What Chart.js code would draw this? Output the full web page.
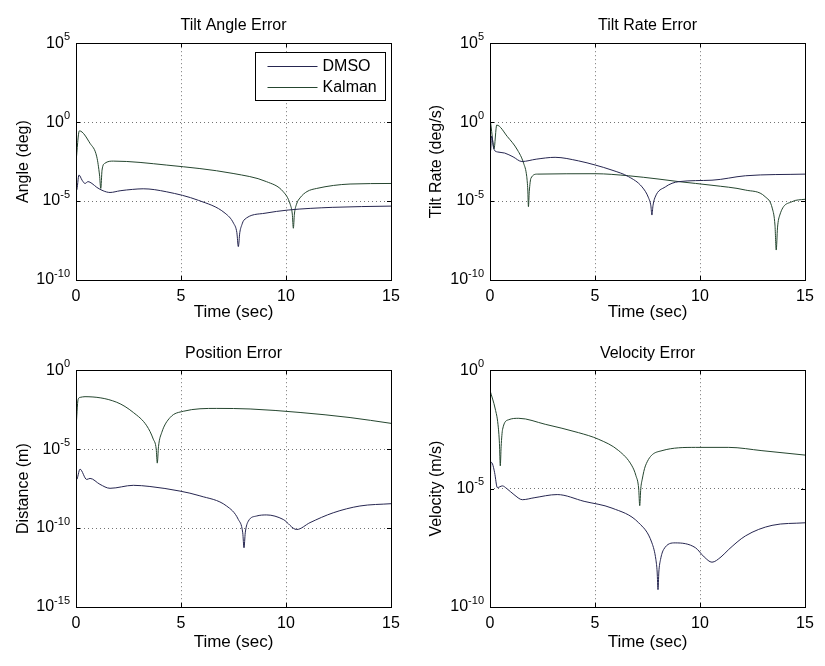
<!DOCTYPE html>
<html>
<head>
<meta charset="utf-8">
<script src="https://cdn.jsdelivr.net/npm/chart.js@4.4.1/dist/chart.umd.min.js"></script>
<style>
  html, body { margin:0; padding:0; background:#fff; }
  #fig { position:relative; width:825px; height:666px; }
  #fig canvas { position:absolute; }
</style>
</head>
<body>
<div id="fig">
  <canvas id="cAngle" width="412" height="333" style="left:0;top:0"></canvas>
  <canvas id="cRate" width="412" height="333" style="left:412px;top:0"></canvas>
  <canvas id="cPos" width="412" height="333" style="left:0;top:333px"></canvas>
  <canvas id="cVel" width="412" height="333" style="left:412px;top:333px"></canvas>
</div>
<script>
// ----- Datos -----
const seriesNames = ['DMSO', 'Kalman'];
const timeTicks = [0, 5, 10, 15];
const angleTicks = [1e-10, 1e-5, 1e0, 1e5];
const rateTicks = [1e-10, 1e-5, 1e0, 1e5];
const posTicks = [1e-15, 1e-10, 1e-5, 1e0];
const velTicks = [1e-10, 1e-5, 1e0];

// Tilt Angle Error
const angleDmsoT = [0, 0.03, 0.14, 0.29, 0.43, 0.57, 0.76, 0.99, 1.29, 1.62, 2.1, 2.7, 3.2, 4.3, 5.84, 7.1, 7.5, 7.66, 7.73, 7.8, 7.9, 8.0, 9.0, 10.1, 12.2, 15];
const angleDmso  = [3.2e-3, 5.0e-5, 4.5e-4, 2.1e-4, 1.3e-4, 1.7e-4, 1.3e-4, 7.4e-5, 4.5e-5, 3.5e-5, 4.5e-5, 5.5e-5, 6.0e-5, 3.9e-5, 1.1e-5, 1.7e-6, 4.0e-7, 1.0e-7, 1.3e-8, 1.0e-7, 3.2e-7, 6.3e-7, 1.7e-6, 2.7e-6, 4.0e-6, 4.8e-6];
const angleKalT  = [0, 0.16, 0.67, 0.99, 1.12, 1.18, 1.24, 1.38, 1.78, 4.32, 7.48, 9.07, 9.87, 10.2, 10.3, 10.35, 10.4, 10.5, 10.67, 11.0, 11.46, 13.05, 15];
const angleKal   = [3.0e-3, 0.28, 0.045, 6.3e-3, 4.5e-4, 6.3e-5, 9.1e-4, 2.5e-3, 3.4e-3, 1.9e-3, 5.6e-4, 1.7e-4, 3.9e-5, 6.3e-6, 1.5e-6, 1.9e-7, 1.5e-6, 6.3e-6, 1.6e-5, 4.0e-5, 6.3e-5, 1.2e-4, 1.3e-4];

// Tilt Rate Error
const rateDmsoT = [0, 0.03, 0.07, 0.2, 0.35, 0.7, 1.1, 1.52, 2.2, 3.1, 4.22, 5.02, 5.81, 6.6, 7.24, 7.55, 7.66, 7.71, 7.76, 7.85, 8.35, 8.99, 10.57, 12.16, 15];
const rateDmso  = [1.3, 0.016, 0.13, 0.018, 0.013, 0.011, 6.3e-3, 3.2e-3, 4.5e-3, 5.9e-3, 3.5e-3, 1.9e-3, 9.1e-4, 3.5e-4, 7.9e-5, 1.6e-5, 5.0e-6, 1.3e-6, 5.0e-6, 1.6e-5, 7.9e-5, 1.7e-4, 2.1e-4, 4.0e-4, 5.1e-4];
const rateKalT  = [0, 0.08, 0.19, 0.32, 0.83, 1.31, 1.6, 1.75, 1.8, 1.83, 1.87, 1.95, 2.25, 5, 6.6, 8, 9, 10.57, 12.16, 13.1, 13.45, 13.57, 13.63, 13.69, 13.8, 14.38, 15];
const rateKal   = [2.0, 0.25, 0.02, 0.65, 0.12, 0.017, 2.5e-3, 3.5e-4, 5.0e-5, 4.4e-6, 4.0e-5, 2.8e-4, 5.1e-4, 5.4e-4, 4.0e-4, 2.5e-4, 1.7e-4, 1.0e-4, 5.0e-5, 1.9e-5, 3.2e-6, 3.0e-7, 7.9e-9, 2.0e-7, 1.3e-6, 9.1e-6, 1.3e-5];

// Position Error
const posDmsoT = [0, 0.03, 0.19, 0.51, 0.67, 1.14, 1.62, 2.73, 3.52, 4.95, 5.9, 7.17, 7.73, 7.94, 8.0, 8.06, 8.21, 8.6, 9.08, 9.87, 10.51, 11.14, 12.25, 13.52, 15];
const posDmso  = [3.8e-6, 1.2e-7, 5.4e-7, 1.2e-7, 1.4e-7, 5.9e-8, 3.3e-8, 5.1e-8, 4.3e-8, 2.2e-8, 1.1e-8, 2.5e-9, 3.5e-10, 5.0e-11, 5.6e-12, 5.0e-11, 2.8e-10, 5.8e-10, 6.8e-10, 3.5e-10, 8.1e-11, 2.2e-10, 9.3e-10, 2.5e-9, 3.5e-9];
const posKalT  = [0, 0.1, 0.2, 0.43, 1.94, 2.73, 3.37, 3.68, 3.82, 3.87, 3.93, 4.08, 4.48, 5.11, 6.7, 8.29, 10.67, 13.05, 15];
const posKal   = [1.9e-4, 0.014, 0.019, 0.021, 9.3e-3, 2.1e-3, 3.0e-4, 4.3e-5, 1.0e-5, 1.3e-6, 1.5e-5, 1.1e-4, 1.0e-3, 2.5e-3, 3.8e-3, 3.5e-3, 2.1e-3, 1.0e-3, 4.3e-4];

// Velocity Error
const velDmsoT = [0, 0.04, 0.12, 0.22, 0.35, 0.59, 0.8, 1.14, 1.54, 2.1, 3.2, 4.48, 5.81, 7.08, 7.71, 7.9, 7.96, 8.0, 8.04, 8.12, 8.27, 8.82, 9.78, 10.2, 10.57, 11.0, 11.37, 12.16, 13.43, 15];
const velDmso  = [6.3e-7, 1.3e-4, 1.1e-4, 4.7e-5, 1.1e-5, 1.3e-5, 1.0e-5, 5.6e-6, 3.4e-6, 4.1e-6, 5.6e-6, 2.9e-6, 1.5e-6, 3.6e-7, 5.1e-8, 1.0e-8, 3.0e-9, 5.4e-10, 3.0e-9, 1.0e-8, 2.7e-8, 5.1e-8, 3.2e-8, 1.3e-8, 7.8e-9, 1.3e-8, 2.7e-8, 1.0e-7, 2.8e-7, 3.6e-7];
const velKalT  = [0, 0.25, 0.38, 0.45, 0.49, 0.53, 0.6, 0.89, 1.37, 2.63, 4.22, 5.18, 6.13, 6.76, 6.95, 7.08, 7.13, 7.18, 7.25, 7.4, 8.19, 9.78, 11.37, 12.95, 15];
const velKal   = [0.14, 0.023, 5.2e-3, 8.0e-4, 9.1e-5, 6.0e-4, 3.2e-3, 8.1e-3, 9.3e-3, 5.2e-3, 2.3e-3, 1.2e-3, 4.0e-4, 9.1e-5, 3.5e-5, 1.0e-5, 1.9e-6, 1.0e-5, 2.5e-5, 9.1e-5, 4.0e-4, 5.5e-4, 5.5e-4, 4.0e-4, 2.6e-4];

// ----- Estilo base -----
const colDmso = '#262650';
const colKal = '#25462f';
const FONT = '"Liberation Sans", Arial, Helvetica, sans-serif';
Chart.defaults.font.family = FONT;
Chart.defaults.font.size = 16;
Chart.defaults.color = '#000';

function pts(ts, vs){ return ts.map((t,i)=>({x:t, y:vs[i]})); }

// caja + marcas de tick hacia dentro (estilo MATLAB) + etiquetas 10^n
const boxPlugin = {
  id:'box',
  afterDatasetsDraw(chart){
    const {ctx, chartArea:a, scales} = chart;
    ctx.save();
    ctx.strokeStyle = '#000'; ctx.lineWidth = 1;
    ctx.beginPath();
    scales.x.ticks.forEach(t=>{
      const px = Math.round(scales.x.getPixelForValue(t.value)) + 0.5;
      ctx.moveTo(px, a.bottom); ctx.lineTo(px, a.bottom-4);
      ctx.moveTo(px, a.top); ctx.lineTo(px, a.top+4);
    });
    scales.y.ticks.forEach(t=>{
      const py = Math.round(scales.y.getPixelForValue(t.value)) + 0.5;
      ctx.moveTo(a.left, py); ctx.lineTo(a.left+4, py);
      ctx.moveTo(a.right, py); ctx.lineTo(a.right-4, py);
    });
    ctx.stroke();
    ctx.strokeRect(Math.round(a.left)+0.5, Math.round(a.top)+0.5, Math.round(a.right-a.left), Math.round(a.bottom-a.top));

    // etiquetas del eje log: "10" + exponente
    ctx.fillStyle = '#000';
    scales.y.ticks.forEach(t=>{
      const py = scales.y.getPixelForValue(t.value);
      const ex = String(Math.round(Math.log10(t.value)));
      ctx.font = '11px ' + FONT;
      const we = ctx.measureText(ex).width;
      ctx.font = '16px ' + FONT;
      const wb = ctx.measureText('10').width;
      const right = a.left - 6;
      ctx.textBaseline = 'middle'; ctx.textAlign = 'left';
      ctx.fillText('10', right - we - wb, py);
      ctx.font = '11px ' + FONT;
      ctx.textBaseline = 'top';
      ctx.fillText(ex, right - we, py - 12);
    });
    ctx.restore();
  }
};

// leyenda dentro del área (esquina superior derecha)
const legendBox = {
  id:'legendBox',
  afterDraw(chart, args, opts){
    if(!opts.show) return;
    const {ctx, chartArea:a} = chart;
    const w = 130, h = 48;
    const x = Math.round(a.right - 6 - w) + 0.5, y = Math.round(a.top + 9) + 0.5;
    ctx.save();
    ctx.fillStyle = '#fff'; ctx.fillRect(x, y, w, h);
    ctx.strokeStyle = '#000'; ctx.lineWidth = 1; ctx.strokeRect(x, y, w, h);
    ctx.font = '16px ' + FONT;
    ctx.textBaseline = 'middle';
    chart.data.datasets.forEach((ds,i)=>{
      const ly = y + 14 + i*21;
      ctx.strokeStyle = ds.borderColor;
      ctx.beginPath(); ctx.moveTo(x+12, ly); ctx.lineTo(x+62, ly); ctx.stroke();
      ctx.fillStyle = '#000';
      ctx.fillText(ds.label, x+67, ly);
    });
    ctx.restore();
  }
};

function makeChart(id, o){
  const edge = ctx => (ctx.index === 0 || ctx.index === ctx.chart.scales[ctx.scale.id].ticks.length-1) ? 'rgba(0,0,0,0)' : 'rgba(0,0,0,0.55)';
  const line = { borderWidth:1, pointRadius:0, cubicInterpolationMode:'monotone' };
  return new Chart(document.getElementById(id), {
    type:'line',
    data:{ datasets:[
      { label:seriesNames[0], data:pts(o.dT, o.d), borderColor:colDmso, ...line },
      { label:seriesNames[1], data:pts(o.kT, o.k), borderColor:colKal, ...line }
    ]},
    options:{
      responsive:false, animation:false, events:[],
      layout:{ padding:{ right:o.padR, left:0, top:0, bottom:0 } },
      plugins:{
        legend:{ display:false }, tooltip:{ enabled:false },
        title:{ display:true, fullSize:false, text:o.title, color:'#000', font:{ size:16, weight:'normal' }, padding:{ top:o.tTop, bottom:o.tBot } },
        legendBox:{ show:!!o.legend }
      },
      scales:{
        x:{ type:'linear', min:0, max:15,
          afterBuildTicks: s => { s.ticks = timeTicks.map(v=>({value:v})); },
          afterFit: s => { s.height = o.xH; },
          grid:{ drawTicks:false, color:edge, lineWidth:1 },
          border:{ display:false, dash:[1,3] },
          ticks:{ padding:7, maxRotation:0, color:'#000' },
          title:{ display:true, text:'Time (sec)', color:'#000', font:{ size:17 }, padding:{ top:0, bottom:o.xTitleB } }
        },
        y:{ type:'logarithmic', min:o.yTicks[0], max:o.yTicks[o.yTicks.length-1],
          afterBuildTicks: s => { s.ticks = o.yTicks.map(v=>({value:v})); },
          afterFit: s => { s.width = o.yW; },
          grid:{ drawTicks:false, color:edge, lineWidth:1 },
          border:{ display:false, dash:[1,3] },
          ticks:{ display:false },
          title:{ display:true, text:o.yLabel, color:'#000', padding:{ top:o.yTitleT, bottom:0 } }
        }
      }
    },
    plugins:[boxPlugin, legendBox]
  });
}

makeChart('cAngle', { title:'Tilt Angle Error', yLabel:'Angle (deg)', dT:angleDmsoT, d:angleDmso, kT:angleKalT, k:angleKal,
  yTicks:angleTicks, yW:76, padR:21, xH:53, tTop:16, tBot:8, xTitleB:10, yTitleT:14, legend:true });
makeChart('cRate', { title:'Tilt Rate Error', yLabel:'Tilt Rate (deg/s)', dT:rateDmsoT, d:rateDmso, kT:rateKalT, k:rateKal,
  yTicks:rateTicks, yW:78, padR:19, xH:53, tTop:16, tBot:8, xTitleB:10, yTitleT:15 });
makeChart('cPos', { title:'Position Error', yLabel:'Distance (m)', dT:posDmsoT, d:posDmso, kT:posKalT, k:posKal,
  yTicks:posTicks, yW:76, padR:21, xH:59, tTop:11, tBot:7, xTitleB:13, yTitleT:14 });
makeChart('cVel', { title:'Velocity Error', yLabel:'Velocity (m/s)', dT:velDmsoT, d:velDmso, kT:velKalT, k:velKal,
  yTicks:velTicks, yW:78, padR:19, xH:59, tTop:11, tBot:7, xTitleB:13, yTitleT:15 });
</script>
</body>
</html>
